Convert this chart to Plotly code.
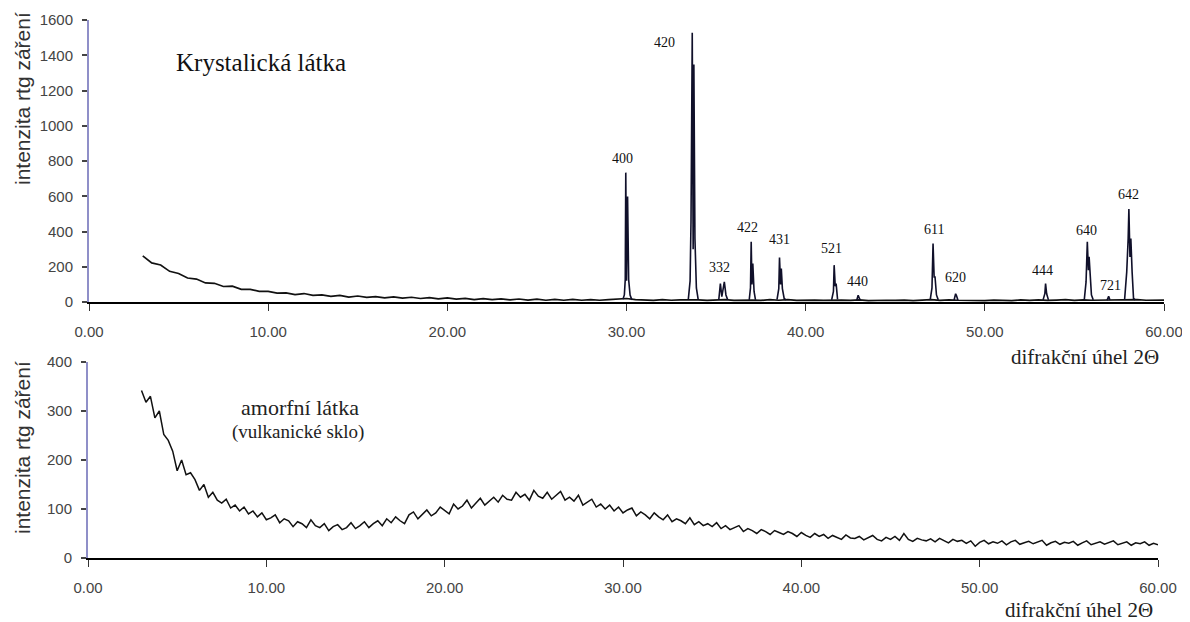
import plotly.graph_objects as go

# ---------------- data ----------------
# Crystalline sample: background sampled every 0.5 deg from 3 to 60
cryst_bg_start = 3.0
cryst_bg_step = 0.5
cryst_bg = [
    262, 222, 210, 174,
    162, 136, 130, 108,
    106, 88, 90, 72,
    72, 60, 60, 50,
    52, 42, 48, 38,
    40, 32, 38, 28,
    34, 26, 31, 24,
    29, 22, 27, 20,
    25, 18, 23, 16,
    21, 14, 19, 13,
    18, 12, 17, 11,
    16, 10, 15, 10,
    15, 10, 14, 10,
    14, 16, 20, 14,
    12, 9, 14, 10,
    12, 14, 12, 9,
    11, 14, 9, 12,
    11, 9, 13, 10,
    14, 9, 12, 11,
    9, 12, 11, 9,
    12, 8, 11, 10,
    9, 11, 8, 11,
    13, 9, 12, 10,
    9, 11, 8, 11,
    10, 8, 12, 9,
    12, 9, 11, 14,
    9, 12, 10, 11,
    12, 9, 12, 14,
    10, 12, 11,
]

# Diffraction peaks (hkl label -> profile points)
peak_labels = ["400", "420", "332", "422", "431", "521", "440",
               "611", "620", "444", "640", "721", "642"]
peak_x = [
    [29.80, 29.88, 29.93, 29.96, 30.00, 30.06, 30.12, 30.20, 30.30],
    [33.45, 33.55, 33.60, 33.67, 33.72, 33.76, 33.82, 33.90, 34.00],
    [35.15, 35.24, 35.32, 35.46, 35.55, 35.65],
    [36.85, 36.92, 36.96, 37.00, 37.05, 37.12, 37.20],
    [38.40, 38.50, 38.54, 38.60, 38.64, 38.70, 38.80, 38.90],
    [41.45, 41.55, 41.59, 41.65, 41.70, 41.78],
    [42.85, 42.93, 43.00, 43.05],
    [46.95, 47.05, 47.11, 47.17, 47.22, 47.30, 47.40],
    [48.28, 48.37, 48.42, 48.50],
    [53.25, 53.35, 53.39, 53.45, 53.55],
    [55.55, 55.65, 55.72, 55.78, 55.82, 55.88, 55.95, 56.05],
    [56.82, 56.91, 56.98],
    [57.80, 57.92, 58.00, 58.04, 58.10, 58.15, 58.22, 58.30, 58.40],
]
peak_y = [
    [15, 40, 127, 734, 120, 598, 127, 40, 12],
    [15, 120, 455, 1527, 300, 1347, 360, 80, 15],
    [12, 104, 30, 114, 40, 12],
    [12, 80, 342, 100, 218, 60, 12],
    [14, 76, 252, 100, 190, 76, 20, 12],
    [12, 60, 209, 90, 104, 15],
    [10, 38, 20, 10],
    [12, 80, 332, 142, 142, 40, 12],
    [10, 47, 35, 10],
    [12, 47, 104, 47, 12],
    [12, 114, 342, 180, 256, 114, 40, 12],
    [10, 32, 12],
    [12, 171, 360, 527, 256, 360, 171, 20, 12],
]
# label anchor positions (angle, intensity)
label_x = [29.78, 32.13, 35.17, 36.76, 38.54, 41.43, 42.89,
           47.17, 48.37, 53.22, 55.65, 57.02, 58.04]
label_y = [816, 1470, 194, 421, 355, 304, 118,
           412, 139, 176, 404, 95, 611]

# Amorphous sample (volcanic glass), sampled every 0.25 deg from 3 to 60
amorph_start = 3.0
amorph_step = 0.25
amorph = [
    342, 318, 330, 286, 300, 252, 240, 218,
    178, 200, 170, 174, 160, 138, 150, 124,
    134, 118, 112, 120, 102, 108, 96, 104,
    90, 96, 84, 92, 78, 82, 88, 72,
    80, 76, 64, 74, 70, 62, 78, 66,
    62, 70, 56, 64, 68, 58, 62, 72,
    60, 66, 74, 62, 70, 76, 66, 80,
    72, 84, 76, 70, 88, 94, 80, 90,
    98, 86, 92, 104, 96, 90, 110, 100,
    106, 118, 102, 112, 122, 108, 116, 124,
    114, 128, 120, 118, 134, 124, 130, 118,
    138, 126, 122, 134, 120, 128, 136, 118,
    124, 116, 128, 108, 114, 120, 104, 110,
    100, 108, 96, 104, 92, 98, 102, 86,
    94, 88, 80, 92, 84, 78, 88, 74,
    80, 76, 70, 82, 68, 74, 66, 70,
    64, 72, 60, 66, 58, 62, 66, 54,
    60, 56, 50, 58, 54, 48, 56, 52,
    48, 54, 50, 44, 52, 46, 42, 50,
    44, 48, 40, 46, 42, 38, 47, 41,
    40, 44, 37, 42, 46, 38, 35, 42,
    38, 44, 36, 50, 38, 34, 40, 37,
    35, 39, 33, 40, 36, 31, 38, 34,
    36, 30, 35, 24, 32, 36, 29, 33,
    30, 35, 27, 33, 36, 28, 31, 34,
    29, 33, 36, 26, 31, 34, 28, 32,
    30, 34, 26, 31, 35, 27, 30, 33,
    28, 32, 35, 27, 30, 33, 26, 31,
    29, 33, 26, 30, 27,
]

x_ticks = [0, 10, 20, 30, 40, 50, 60]
x_tick_text = ["0.00", "10.00", "20.00", "30.00", "40.00", "50.00", "60.00"]
top_y_ticks = [0, 200, 400, 600, 800, 1000, 1200, 1400, 1600]
bottom_y_ticks = [0, 100, 200, 300, 400]

# ---------------- figure ----------------
# page body has an 8 px margin, so the figure is drawn 8 px smaller and
# screen positions are converted to figure fractions with that offset
OFF = 8
W, H = 1190 - OFF, 622 - OFF


def fx(s):
    return (s - OFF) / W


def fy(s):
    return 1 - (s - OFF) / H


cryst_x = [cryst_bg_start + cryst_bg_step * i for i in range(len(cryst_bg))]
amorph_x = [amorph_start + amorph_step * i for i in range(len(amorph))]

px, py = [], []
for xs, ys in zip(peak_x, peak_y):
    px += xs + [None]
    py += ys + [None]

fig = go.Figure()
fig.add_trace(go.Scatter(x=cryst_x, y=cryst_bg, mode="lines",
                         line=dict(color="#111111", width=1.7),
                         xaxis="x", yaxis="y", showlegend=False, hoverinfo="skip"))
fig.add_trace(go.Scatter(x=px, y=py, mode="lines",
                         line=dict(color="#10102a", width=1.6),
                         xaxis="x", yaxis="y", showlegend=False, hoverinfo="skip",
                         connectgaps=False))
fig.add_trace(go.Scatter(x=amorph_x, y=amorph, mode="lines",
                         line=dict(color="#111111", width=1.5),
                         xaxis="x2", yaxis="y2", showlegend=False, hoverinfo="skip"))

tickfont = dict(family="Liberation Sans, Arial, sans-serif", size=15, color="#444444")
serif = "Liberation Serif, Times New Roman, serif"

common_x = dict(range=[0, 60], tickvals=x_ticks, ticktext=x_tick_text,
                showgrid=False, zeroline=False, showline=True, linecolor="#000000",
                linewidth=2, ticks="outside", ticklen=7, tickcolor="#333333",
                tickwidth=1, tickfont=tickfont, ticklabelstandoff=8,
                fixedrange=True, automargin=True)
common_y = dict(showgrid=False, zeroline=False, showline=True, linecolor="#8f8fc8",
                linewidth=2, ticks="outside", ticklen=5, tickcolor="#444444",
                tickwidth=1.5, tickfont=tickfont, ticklabelstandoff=6,
                fixedrange=True, automargin=True)

fig.update_layout(
    width=W, height=H,
    margin=dict(l=0, r=0, t=0, b=0, autoexpand=False),
    paper_bgcolor="white", plot_bgcolor="white",
    xaxis=dict(domain=[fx(89), fx(1164)], anchor="y", **common_x),
    yaxis=dict(domain=[fy(302), fy(20)], anchor="x", range=[0, 1600],
               tickvals=top_y_ticks, **common_y),
    xaxis2=dict(domain=[fx(88), fx(1158)], anchor="y2", **common_x),
    yaxis2=dict(domain=[fy(558), fy(362)], anchor="x2", range=[0, 400],
                tickvals=bottom_y_ticks, **common_y),
)

ann = []
for lab, lx, ly in zip(peak_labels, label_x, label_y):
    ann.append(dict(x=lx, y=ly, xref="x", yref="y", text=lab, showarrow=False,
                    xanchor="center", yanchor="middle",
                    font=dict(family=serif, size=14, color="#111111")))

ann += [
    dict(x=fx(261), y=fy(62), xref="paper", yref="paper", text="Krystalická látka",
         showarrow=False, xanchor="center", yanchor="middle",
         font=dict(family=serif, size=25, color="#111111")),
    dict(x=fx(300), y=fy(407), xref="paper", yref="paper", text="amorfní látka",
         showarrow=False, xanchor="center", yanchor="middle",
         font=dict(family=serif, size=22, color="#222222")),
    dict(x=fx(298), y=fy(432), xref="paper", yref="paper", text="(vulkanické sklo)",
         showarrow=False, xanchor="center", yanchor="middle",
         font=dict(family=serif, size=19, color="#222222")),
    dict(x=fx(1161), y=fy(357), xref="paper", yref="paper", text="difrakční úhel 2Θ",
         showarrow=False, xanchor="right", yanchor="middle",
         font=dict(family=serif, size=21, color="#222222")),
    dict(x=fx(1155), y=fy(610), xref="paper", yref="paper", text="difrakční úhel 2Θ",
         showarrow=False, xanchor="right", yanchor="middle",
         font=dict(family=serif, size=21, color="#222222")),
    dict(x=fx(22), y=fy(99), xref="paper", yref="paper", text="intenzita rtg záření",
         showarrow=False, textangle=-90, xanchor="center", yanchor="middle",
         font=dict(family="Liberation Sans, Arial, sans-serif", size=21, color="#333333")),
    dict(x=fx(22), y=fy(448), xref="paper", yref="paper", text="intenzita rtg záření",
         showarrow=False, textangle=-90, xanchor="center", yanchor="middle",
         font=dict(family="Liberation Sans, Arial, sans-serif", size=21, color="#333333")),
]
fig.update_layout(annotations=ann)

fig.write_html("out.html", config={"displayModeBar": False})
